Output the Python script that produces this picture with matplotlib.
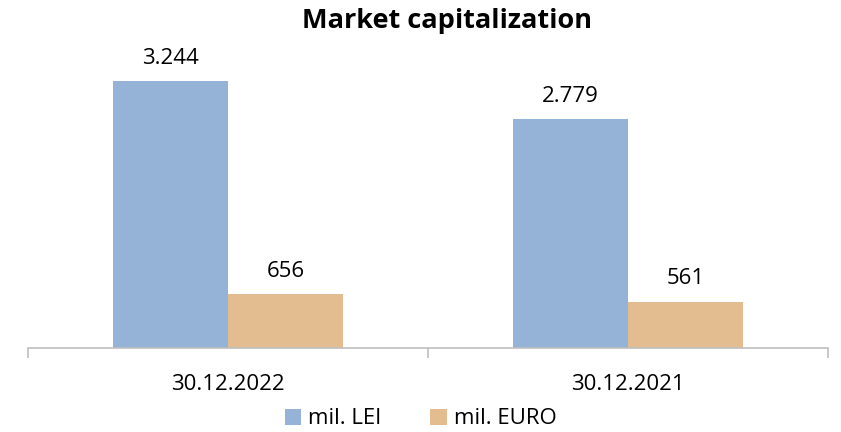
import matplotlib.pyplot as plt
import numpy as np

plt.rcParams['font.family'] = ['Open Sans', 'DejaVu Sans']

dates = ['30.12.2022', '30.12.2021']
lei = [3244, 2779]
euro = [656, 561]
lei_labels = ['3.244', '2.779']
euro_labels = ['656', '561']

fig = plt.figure(figsize=(8.41, 4.32), dpi=100)
ax = fig.add_axes([28 / 841, 1 - 348 / 432, 800 / 841, 329 / 432])

x = np.arange(len(dates))
w = 0.2875
b1 = ax.bar(x - w / 2, lei, w, color='#95B3D7', label='mil. LEI')
b2 = ax.bar(x + w / 2, euro, w, color='#E3BD8F', label='mil. EURO')

for bars, labs in [(b1, lei_labels), (b2, euro_labels)]:
    for r, t in zip(bars, labs):
        ax.annotate(t, (r.get_x() + r.get_width() / 2, r.get_height()),
                    xytext=(0, 9), textcoords='offset points',
                    ha='center', va='bottom', fontsize=16)

ax.set_xlim(-0.5, 1.5)
ax.set_ylim(0, 4000)
ax.set_yticks([])
for s in ['top', 'right', 'left']:
    ax.spines[s].set_visible(False)
ax.spines['bottom'].set_color('#BFBFBF')
ax.spines['bottom'].set_linewidth(1.2)

ax.set_xticks([-0.5, 0.5, 1.5])
ax.set_xticklabels([])
ax.tick_params(axis='x', length=7, color='#BFBFBF', width=1.2)
ax.set_xticks(x, minor=True)
ax.set_xticklabels(dates, minor=True, fontsize=16)
ax.tick_params(axis='x', which='minor', length=0, pad=19)

fig.text(447 / 841, 1 - 21 / 432, 'Market capitalization', fontsize=19.5,
         fontweight='bold', ha='center', va='center')
fig.legend(loc='center', bbox_to_anchor=(0.5, 1 - 419 / 432), ncol=2, frameon=False,
           fontsize=16, handlelength=0.75, handleheight=0.75, handletextpad=0.3,
           columnspacing=2.2, borderpad=0)

fig.savefig('out.png', dpi=100)
